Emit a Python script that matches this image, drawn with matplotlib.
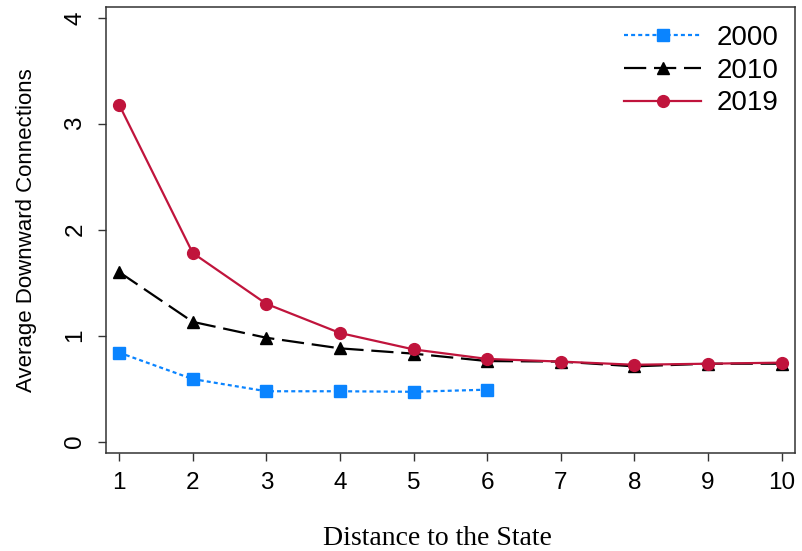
import matplotlib.pyplot as plt

distance = [1, 2, 3, 4, 5, 6, 7, 8, 9, 10]
y2000 = [0.84, 0.59, 0.475, 0.475, 0.47, 0.49]
y2010 = [1.60, 1.13, 0.98, 0.88, 0.83, 0.76, 0.755, 0.71, 0.735, 0.735]
y2019 = [3.18, 1.78, 1.30, 1.025, 0.87, 0.78, 0.755, 0.725, 0.735, 0.745]

blue = '#0A84FF'
red = '#C0143C'

fig = plt.figure(figsize=(8.02, 5.51), dpi=100)
ax = fig.add_axes([0.132, 0.178, 0.859, 0.809])

ax.plot(distance[:len(y2000)], y2000, color=blue, linestyle=(0, (1.8, 1.4)), linewidth=1.6,
        marker='s', markersize=8.5, label='2000')
ax.plot(distance, y2010, color='black', linestyle=(0, (10, 3.5)), linewidth=1.6,
        marker='^', markersize=8.5, label='2010')
ax.plot(distance, y2019, color=red, linestyle='-', linewidth=1.6,
        marker='o', markersize=8.5, label='2019')

ax.set_xlim(0.82, 10.18)
ax.set_ylim(-0.107, 4.10)
ax.set_xticks(distance)
ax.set_yticks([0, 1, 2, 3, 4])

for s in ax.spines.values():
    s.set_linewidth(1.1)
    s.set_color('#333333')

ax.tick_params(axis='both', direction='out', length=6, width=1.0, color='#333333',
               labelsize=17.5, pad=8)
for lbl in ax.get_xticklabels() + ax.get_yticklabels():
    lbl.set_family('Liberation Sans')
for lbl in ax.get_yticklabels():
    lbl.set_rotation(90)
    lbl.set_va('center')

ax.set_ylabel('Average Downward Connections', fontsize=16, family='Liberation Sans')
ax.yaxis.set_label_coords(-0.1, 0.5)
ax.set_xlabel('Distance to the State', fontsize=20, family='Liberation Serif')
ax.xaxis.set_label_coords(0.482, -0.165)

ax.legend(loc='upper right', bbox_to_anchor=(0.994, 0.989), frameon=False,
          prop={'family': 'Liberation Sans', 'size': 20},
          handlelength=2.77, handletextpad=0.54, borderpad=0, borderaxespad=0.45,
          labelspacing=0.25)

fig.savefig('out.png', dpi=100)
